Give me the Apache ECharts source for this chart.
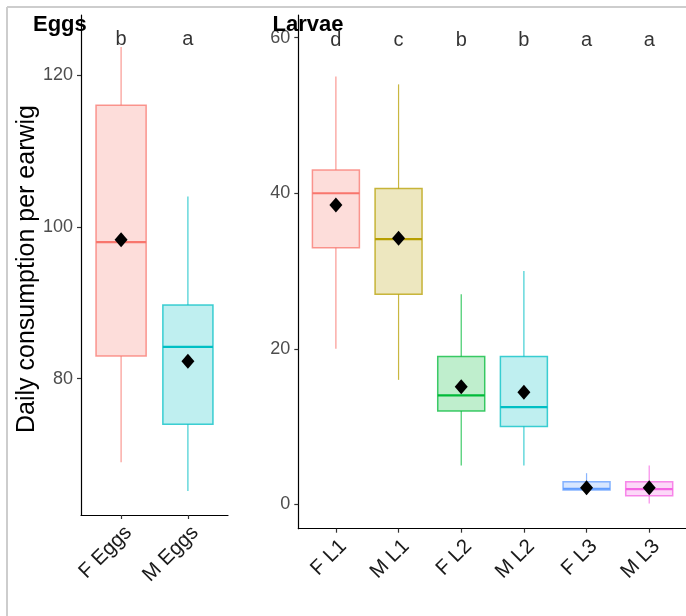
<!DOCTYPE html>
<html><head><meta charset="utf-8">
<script src="https://cdn.jsdelivr.net/npm/echarts@6/dist/echarts.min.js"></script>
<style>html,body{margin:0;padding:0;background:#fff}#c{width:686px;height:616px}</style>
</head><body><div id="c"></div>
<script>
// ---- Eggs panel data ----
const eggCats    = ['F Eggs', 'M Eggs'];
const eggMin     = [69, 65.2];
const eggQ1      = [83, 74];
const eggMedian  = [98, 84.2];
const eggQ3      = [116, 89.7];
const eggMax     = [123.7, 104];
const eggMean    = [98.3, 82.3];
const eggLetters = ['b', 'a'];
const eggTicks   = [80, 100, 120];

// ---- Larvae panel data ----
const larvaCats    = ['F L1', 'M L1', 'F L2', 'M L2', 'F L3', 'M L3'];
const larvaMin     = [20, 16, 5, 5, 1.2, 0.1];
const larvaQ1      = [33, 27, 12, 10, 1.85, 1.1];
const larvaMedian  = [40, 34.1, 14, 12.5, 2, 1.95];
const larvaQ3      = [43, 40.6, 19, 19, 2.9, 2.9];
const larvaMax     = [55, 54, 27, 30, 4, 5];
const larvaMean    = [38.5, 34.2, 15.1, 14.4, 2.13, 2.13];
const larvaLetters = ['d', 'c', 'b', 'b', 'a', 'a'];
const larvaTicks   = [0, 20, 40, 60];

const eggColors   = ['#F8766D', '#00BFC4'];
const larvaColors = ['#F8766D', '#B79F00', '#00BA38', '#00BFC4', '#619CFF', '#F564E3'];
const FONT = 'Liberation Sans, Arial, sans-serif';

function hexA(hex, a) {
  const r = parseInt(hex.slice(1,3),16), g = parseInt(hex.slice(3,5),16), b = parseInt(hex.slice(5,7),16);
  return 'rgba(' + r + ',' + g + ',' + b + ',' + a + ')';
}
function boxData(mn, q1, md, q3, mx) {
  return mn.map((v, i) => [i + 1, mn[i], q1[i], md[i], q3[i], mx[i]]);
}
function boxRender(colors) {
  return function (params, api) {
    const i = params.dataIndex;
    const x = api.value(0);
    const c = colors[i];
    const pMin = api.coord([x, api.value(1)]);
    const pQ1 = api.coord([x, api.value(2)]);
    const pMed = api.coord([x, api.value(3)]);
    const pQ3 = api.coord([x, api.value(4)]);
    const pMax = api.coord([x, api.value(5)]);
    const left = api.coord([x - 0.375, 0])[0];
    const right = api.coord([x + 0.375, 0])[0];
    const lineC = hexA(c, 0.75);
    return {
      type: 'group',
      children: [
        { type: 'line', shape: { x1: pMax[0], y1: pMax[1], x2: pQ3[0], y2: pQ3[1] }, style: { stroke: lineC, lineWidth: 1.2 } },
        { type: 'line', shape: { x1: pMin[0], y1: pMin[1], x2: pQ1[0], y2: pQ1[1] }, style: { stroke: lineC, lineWidth: 1.2 } },
        { type: 'rect', shape: { x: left, y: pQ3[1], width: right - left, height: pQ1[1] - pQ3[1] },
          style: { fill: hexA(c, 0.25), stroke: lineC, lineWidth: 1.5 } },
        { type: 'line', shape: { x1: left, y1: pMed[1], x2: right, y2: pMed[1] }, style: { stroke: c, lineWidth: 2.2 } }
      ]
    };
  };
}
function pts(vals) { return vals.map((v, i) => [i + 1, v]); }

const axisLineStyle = { color: '#000', width: 1.2 };
const tickStyle = { color: '#333', width: 1.2 };

const chart = echarts.init(document.getElementById('c'), null, { renderer: 'canvas' });
chart.setOption({
  animation: false,
  backgroundColor: '#fff',
  grid: [
    { left: 81, top: 15, width: 147, height: 500 },
    { left: 298.3, top: 15, width: 387.7, height: 513.7 }
  ],
  xAxis: [
    { type: 'value', gridIndex: 0, min: 0.4, max: 2.6, splitLine: { show: false },
      axisLine: { onZero: false, lineStyle: axisLineStyle },
      axisTick: { show: true, length: 4, lineStyle: tickStyle, customValues: [1, 2] },
      axisLabel: { customValues: [1, 2], formatter: v => eggCats[Math.round(v) - 1], rotate: 45,
        align: 'right', verticalAlign: 'top', margin: 7, fontSize: 20.5, color: '#1a1a1a', fontFamily: FONT } },
    { type: 'value', gridIndex: 1, min: 0.4, max: 6.587, splitLine: { show: false },
      axisLine: { onZero: false, lineStyle: axisLineStyle },
      axisTick: { show: true, length: 4, lineStyle: tickStyle, customValues: [1, 2, 3, 4, 5, 6] },
      axisLabel: { customValues: [1, 2, 3, 4, 5, 6], formatter: v => larvaCats[Math.round(v) - 1], rotate: 45,
        align: 'right', verticalAlign: 'top', margin: 7, fontSize: 20.5, color: '#1a1a1a', fontFamily: FONT } }
  ],
  yAxis: [
    { type: 'value', gridIndex: 0, min: 62.05, max: 127.9, splitLine: { show: false },
      axisLine: { show: true, onZero: false, lineStyle: axisLineStyle },
      axisTick: { show: true, length: 4, lineStyle: tickStyle, customValues: eggTicks },
      axisLabel: { customValues: eggTicks, margin: 8, fontSize: 18, color: '#4D4D4D', fontFamily: FONT } },
    { type: 'value', gridIndex: 1, min: -3.14, max: 62.92, splitLine: { show: false },
      axisLine: { show: true, onZero: false, lineStyle: axisLineStyle },
      axisTick: { show: true, length: 4, lineStyle: tickStyle, customValues: larvaTicks },
      axisLabel: { customValues: larvaTicks, margin: 8, fontSize: 18, color: '#4D4D4D', fontFamily: FONT } }
  ],
  series: [
    { type: 'custom', xAxisIndex: 0, yAxisIndex: 0, renderItem: boxRender(eggColors),
      data: boxData(eggMin, eggQ1, eggMedian, eggQ3, eggMax), encode: { x: 0, y: [1, 2, 3, 4, 5] }, z: 2 },
    { type: 'custom', xAxisIndex: 1, yAxisIndex: 1, renderItem: boxRender(larvaColors),
      data: boxData(larvaMin, larvaQ1, larvaMedian, larvaQ3, larvaMax), encode: { x: 0, y: [1, 2, 3, 4, 5] }, z: 2 },
    { type: 'scatter', xAxisIndex: 0, yAxisIndex: 0, symbol: 'diamond', symbolSize: [13, 15],
      itemStyle: { color: '#000', opacity: 1 }, data: pts(eggMean), z: 5 },
    { type: 'scatter', xAxisIndex: 1, yAxisIndex: 1, symbol: 'diamond', symbolSize: [13, 15],
      itemStyle: { color: '#000', opacity: 1 }, data: pts(larvaMean), z: 5 },
    { type: 'scatter', xAxisIndex: 0, yAxisIndex: 0, symbolSize: 0, silent: true, clip: false,
      data: eggLetters.map((l, i) => ({ value: [i + 1, 124.65], name: l })),
      label: { show: true, position: 'inside', formatter: p => p.name, fontSize: 20, color: '#000', fontFamily: FONT }, z: 6 },
    { type: 'scatter', xAxisIndex: 1, yAxisIndex: 1, symbolSize: 0, silent: true, clip: false,
      data: larvaLetters.map((l, i) => ({ value: [i + 1, 59.64], name: l })),
      label: { show: true, position: 'inside', formatter: p => p.name, fontSize: 20, color: '#000', fontFamily: FONT }, z: 6 }
  ],
  graphic: [
    { type: 'line', shape: { x1: 7, y1: 7, x2: 686, y2: 7 }, style: { stroke: '#cdcdcd', lineWidth: 2 }, silent: true },
    { type: 'line', shape: { x1: 7, y1: 7, x2: 7, y2: 616 }, style: { stroke: '#cdcdcd', lineWidth: 2 }, silent: true },
    { type: 'text', x: 27, y: 269, rotation: Math.PI / 2,
      style: { text: 'Daily consumption per earwig', font: '25px ' + FONT, fill: '#000', textAlign: 'center', textVerticalAlign: 'middle' } },
    { type: 'text', x: 33, y: 25, z: 10,
      style: { text: 'Eggs', font: 'bold 22px ' + FONT, fill: '#000', textAlign: 'left', textVerticalAlign: 'middle' } },
    { type: 'text', x: 272.5, y: 25, z: 10,
      style: { text: 'Larvae', font: 'bold 22px ' + FONT, fill: '#000', textAlign: 'left', textVerticalAlign: 'middle' } }
  ]
});
</script></body></html>
